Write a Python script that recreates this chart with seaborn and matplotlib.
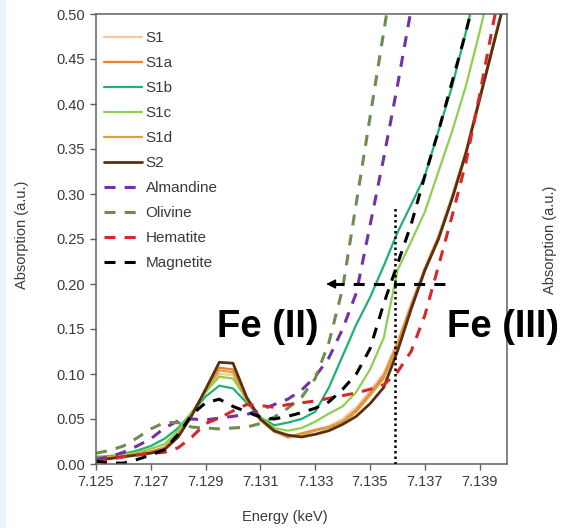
import numpy as np
import pandas as pd
import matplotlib
matplotlib.use("Agg")
import matplotlib.pyplot as plt
import seaborn as sns
from matplotlib.patches import Rectangle

nan = np.nan

# ---------------- data ----------------
energy = [7.1250, 7.1255, 7.1260, 7.1265, 7.1270, 7.1275, 7.1280, 7.1285, 7.1290, 7.1295,
          7.1300, 7.1305, 7.1310, 7.1315, 7.1320, 7.1325, 7.1330, 7.1335, 7.1340, 7.1345,
          7.1350, 7.1355, 7.1360, 7.1365, 7.1370, 7.1375, 7.1380, 7.1385, 7.1390, 7.1395,
          7.1400]

s1 = [0.007, 0.008, 0.010, 0.012, 0.014, 0.019, 0.034, 0.056, 0.080, 0.100,
      0.099, 0.070, 0.048, 0.036, 0.029, 0.032, 0.037, 0.042, 0.050, 0.063,
      0.081, 0.101, 0.136, 0.178, 0.218, 0.254, 0.298, 0.348, 0.408, 0.468, 0.528]
s1a = [0.008, 0.009, 0.010, 0.012, 0.014, 0.018, 0.033, 0.056, 0.082, 0.107,
       0.105, 0.072, 0.050, 0.037, 0.030, 0.034, 0.038, 0.041, 0.047, 0.060,
       0.078, 0.098, 0.133, 0.176, 0.217, 0.252, 0.297, 0.347, 0.407, 0.467, 0.527]
s1b = [0.007, 0.008, 0.011, 0.015, 0.020, 0.028, 0.040, 0.057, 0.075, 0.087,
       0.084, 0.068, 0.052, 0.043, 0.046, 0.050, 0.058, 0.085, 0.120, 0.155,
       0.185, 0.220, 0.257, 0.288, 0.320, 0.370, 0.420, 0.480, 0.545, nan, nan]
s1c = [0.005, 0.007, 0.010, 0.013, 0.017, 0.022, 0.037, 0.058, 0.080, 0.097,
       0.095, 0.072, 0.052, 0.040, 0.037, 0.040, 0.047, 0.056, 0.064, 0.080,
       0.105, 0.140, 0.215, 0.247, 0.280, 0.325, 0.370, 0.420, 0.480, 0.545, nan]
s1d = [0.006, 0.008, 0.009, 0.011, 0.013, 0.017, 0.032, 0.055, 0.081, 0.104,
       0.102, 0.071, 0.049, 0.036, 0.031, 0.033, 0.037, 0.040, 0.046, 0.058,
       0.076, 0.095, 0.130, 0.174, 0.215, 0.251, 0.296, 0.346, 0.406, 0.466, 0.526]
s2 = [0.005, 0.006, 0.008, 0.010, 0.012, 0.016, 0.030, 0.054, 0.083, 0.113,
      0.112, 0.074, 0.050, 0.037, 0.032, 0.030, 0.033, 0.037, 0.044, 0.053,
      0.067, 0.085, 0.125, 0.172, 0.215, 0.250, 0.295, 0.345, 0.405, 0.465, 0.525]
almandine = [0.005, 0.008, 0.013, 0.020, 0.028, 0.040, 0.048, 0.050, 0.049, 0.051,
             0.053, 0.055, 0.060, 0.066, 0.072, 0.082, 0.097, 0.118, 0.150, 0.190,
             0.265, 0.340, 0.420, 0.505, 0.590, nan, nan, nan, nan, nan, nan]
olivine = [0.012, 0.015, 0.020, 0.029, 0.039, 0.046, 0.046, 0.041, 0.040, 0.039,
           0.040, 0.041, 0.045, 0.052, 0.062, 0.074, 0.095, 0.135, 0.195, 0.290,
           0.385, 0.480, 0.575, nan, nan, nan, nan, nan, nan, nan, nan]
hematite = [0.003, 0.005, 0.008, 0.010, 0.012, 0.013, 0.018, 0.030, 0.045, 0.051,
            0.059, 0.066, 0.065, 0.063, 0.066, 0.068, 0.070, 0.073, 0.076, 0.079,
            0.083, 0.088, 0.102, 0.125, 0.165, 0.220, 0.276, 0.335, 0.410, 0.490, 0.560]
magnetite = [0.003, 0.001, 0.001, 0.005, 0.010, 0.016, 0.033, 0.055, 0.068, 0.072,
             0.064, 0.058, 0.052, 0.050, 0.053, 0.057, 0.062, 0.069, 0.083, 0.100,
             0.128, 0.178, 0.222, 0.266, 0.320, 0.370, 0.425, 0.480, 0.540, nan, nan]

sample_names = ["S1", "S1a", "S1b", "S1c", "S1d", "S2"]
reference_names = ["Almandine", "Olivine", "Hematite", "Magnetite"]

x_ticks = [7.125, 7.127, 7.129, 7.131, 7.133, 7.135, 7.137, 7.139]
y_ticks = [0.00, 0.05, 0.10, 0.15, 0.20, 0.25, 0.30, 0.35, 0.40, 0.45, 0.50]

edge_energy = 7.1359      # dotted marker line
edge_top = 0.285
arrow_from = 7.1380
arrow_to = 7.1334
arrow_level = 0.20
label_fe2 = "Fe (II)"
label_fe3 = "Fe (III)"
fe2_pos = (7.12940, 0.141)
fe3_pos = (7.13780, 0.141)

# ---------------- style ----------------
sns.set_style("ticks")
plt.rcParams["font.family"] = ["Liberation Sans", "DejaVu Sans"]
plt.rcParams["axes.linewidth"] = 1.1

txt_col = "#3a3a3a"
spine_col = "#606060"

fig = plt.figure(figsize=(5.66, 5.28), dpi=100)
fig.patches.append(Rectangle((0, 0), 6 / 566, 1, transform=fig.transFigure,
                             facecolor="#e6f6fb", edgecolor="none", zorder=-5))
ax = fig.add_axes([96 / 566, 1 - 464 / 528, 411 / 566, 450 / 528])

series = {
    "S1": s1, "S1a": s1a, "S1b": s1b, "S1c": s1c, "S1d": s1d, "S2": s2,
    "Almandine": almandine, "Olivine": olivine, "Hematite": hematite, "Magnetite": magnetite,
}
colors = {
    "S1": "#F6C6A0", "S1a": "#EE7F33", "S1b": "#1DB36E", "S1c": "#8DD050",
    "S1d": "#D8A23C", "S2": "#5B2E10",
    "Almandine": "#7232A6", "Olivine": "#6D8C52", "Hematite": "#D8262B", "Magnetite": "#000000",
}
dash = (0, (3.6, 3.0))

for name in sample_names:
    sns.lineplot(x=energy, y=series[name], ax=ax, color=colors[name],
                 lw=2.0 if name == "S2" else 1.6, label=name,
                 estimator=None, errorbar=None, sort=False)
for name in reference_names:
    sns.lineplot(x=energy, y=series[name], ax=ax, color=colors[name],
                 lw=2.2, linestyle=dash, label=name,
                 estimator=None, errorbar=None, sort=False)

# dotted edge marker and dashed arrow
ax.vlines(edge_energy, 0, edge_top, colors="black", linestyles=(0, (1, 1.2)), lw=1.8, zorder=5)
ax.hlines(arrow_level, arrow_to + 0.00025, arrow_from, colors="black",
          linestyles=dash, lw=2.2, zorder=5)
ax.annotate("", xy=(arrow_to, arrow_level), xytext=(arrow_to + 0.0003, arrow_level),
            arrowprops=dict(arrowstyle="-|>", color="black", lw=1, mutation_scale=14,
                            shrinkA=0, shrinkB=0), zorder=6)

ax.text(*fe2_pos, label_fe2, fontsize=27.5, fontweight="bold", ha="left",
        va="baseline", color="black", zorder=7)
ax.text(*fe3_pos, label_fe3, fontsize=27.5, fontweight="bold", ha="left",
        va="baseline", color="black", clip_on=False, zorder=7)

ax.set_xlim(7.125, 7.140)
ax.set_ylim(0, 0.5)
ax.set_xticks(x_ticks)
ax.set_xticklabels([f"{v:.3f}" for v in x_ticks])
ax.set_yticks(y_ticks)
ax.set_yticklabels([f"{v:.2f}" for v in y_ticks])
ax.tick_params(axis="both", which="both", direction="out", length=4, width=1,
               color=spine_col, labelsize=10.5, labelcolor=txt_col, pad=4,
               top=False, right=False)
for sp in ax.spines.values():
    sp.set_color(spine_col)
    sp.set_linewidth(1.1)
ax.set_xlabel("")
ax.set_ylabel("")

fig.text(285 / 566, 1 - 517 / 528, "Energy (keV)", ha="center", va="center",
         fontsize=10.5, color=txt_col)
fig.text(22 / 566, 1 - 235 / 528, "Absorption (a.u.)", ha="center", va="center",
         rotation=90, fontsize=10.5, color=txt_col)
fig.text(550 / 566, 1 - 240 / 528, "Absorption (a.u.)", ha="center", va="center",
         rotation=90, fontsize=10.5, color=txt_col)

leg = ax.legend(loc="upper left", bbox_to_anchor=(0.02, 0.962), frameon=False,
                fontsize=11, handlelength=2.5, handletextpad=0.2, labelspacing=0.72,
                borderaxespad=0, borderpad=0)
for t in leg.get_texts():
    t.set_color(txt_col)

fig.savefig("out.png", dpi=100)
